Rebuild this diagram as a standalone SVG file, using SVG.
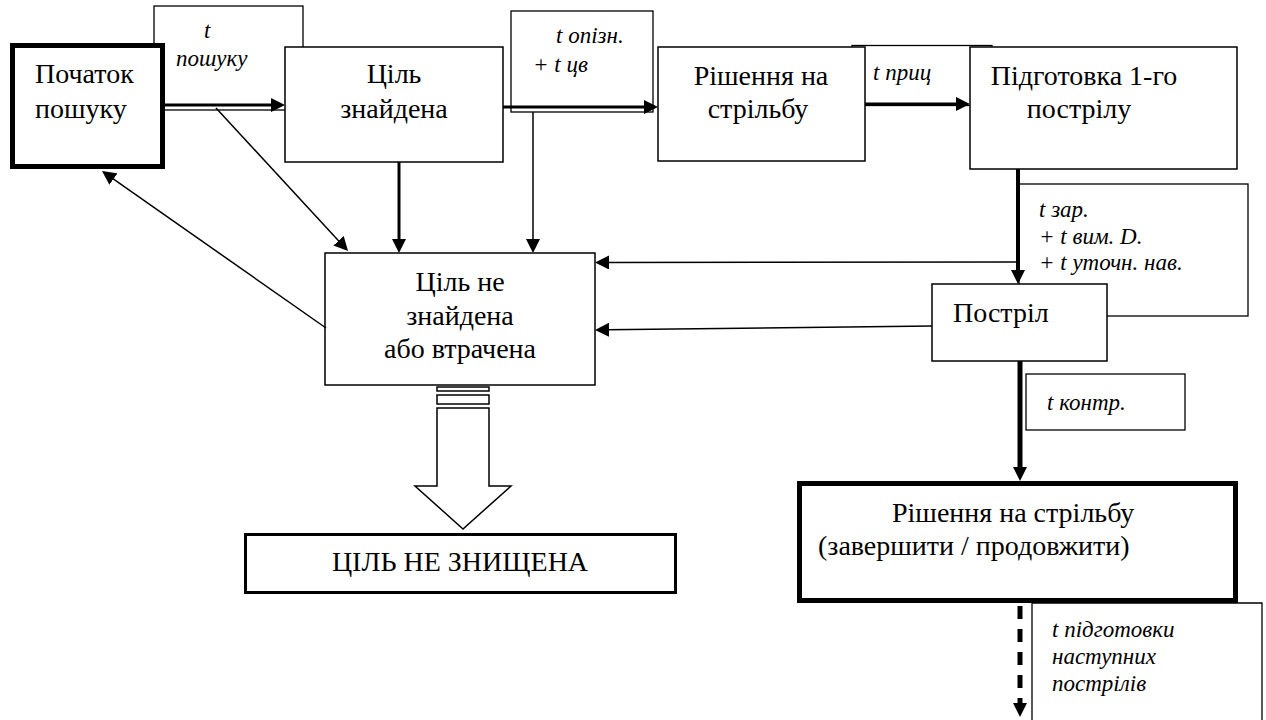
<svg xmlns="http://www.w3.org/2000/svg" width="1266" height="720" viewBox="0 0 1266 720">
<defs>
<style>
.box{fill:#fff;stroke:#000;stroke-width:1.5}
.bold{fill:#fff;stroke:#000;stroke-width:5}
.lbl{fill:#fff;stroke:#000;stroke-width:1.3}
.c{text-anchor:middle}
.thin{stroke:#000;stroke-width:1.5;fill:none}
.mid{stroke:#000;stroke-width:3;fill:none}
.thick{stroke:#000;stroke-width:5;fill:none}
</style>
<marker id="ah" viewBox="0 0 14 14" refX="2" refY="7" markerWidth="14" markerHeight="14" markerUnits="userSpaceOnUse" orient="auto">
<path d="M0,0 L14,7 L0,14 z" fill="#000"/>
</marker>
</defs>
<rect width="1266" height="720" fill="#fff"/>

<g font-family="Liberation Serif, serif" font-size="23" font-style="italic" fill="#000">
<g id="label-poshuku">
<rect class="lbl" x="154" y="6" width="149" height="104"/>
<text x="204" y="38">t</text>
<text x="176" y="66">пошуку</text>
</g>
<g id="label-opizn">
<rect class="lbl" x="511" y="11" width="142" height="101"/>
<text x="556" y="43">t опізн.</text>
<text x="533" y="72">+ t цв</text>
</g>
<g id="label-pryts">
<rect class="lbl" x="852" y="45.5" width="140" height="60"/>
<text x="873" y="80">t приц</text>
</g>
<g id="label-zar">
<rect class="lbl" x="1019" y="184" width="229" height="132"/>
<text x="1039" y="217">t зар.</text>
<text x="1039" y="244">+ t вим. D.</text>
<text x="1039" y="270">+ t уточн. нав.</text>
</g>
<g id="label-kontr">
<rect class="lbl" x="1026" y="374" width="159" height="56"/>
<text x="1047" y="410">t контр.</text>
</g>
<g id="label-next">
<path class="lbl" d="M1032,725 V603 H1262 V725"/>
<text x="1052" y="637">t підготовки</text>
<text x="1052" y="664">наступних</text>
<text x="1052" y="691">пострілів</text>
</g>
</g>

<g font-family="Liberation Serif, serif" font-size="28" fill="#000">
<g id="start">
<rect class="bold" x="12.5" y="45.5" width="150" height="121"/>
<text x="35" y="83">Початок</text>
<text x="35" y="118">пошуку</text>
</g>
<g id="found">
<rect class="box" x="285" y="47" width="218" height="115"/>
<text class="c" x="394" y="83">Ціль</text>
<text class="c" x="394" y="118">знайдена</text>
</g>
<g id="decision">
<rect class="box" x="658" y="47" width="207" height="114"/>
<text class="c" x="761" y="85">Рішення на</text>
<text class="c" x="758" y="118">стрільбу</text>
</g>
<g id="prep">
<rect class="box" x="970" y="47" width="267" height="122"/>
<text class="c" x="1084" y="85">Підготовка 1-го</text>
<text class="c" x="1079" y="118">пострілу</text>
</g>
<g id="notfound">
<rect class="box" x="325" y="253" width="270" height="132"/>
<text class="c" x="460" y="291">Ціль не</text>
<text class="c" x="460" y="325">знайдена</text>
<text class="c" x="460" y="358">або втрачена</text>
</g>
<g id="shot">
<rect class="box" x="932" y="284" width="175" height="77"/>
<text x="953" y="322">Постріл</text>
</g>
<g id="decision2">
<rect class="bold" x="799.5" y="483.5" width="436" height="117"/>
<text x="892" y="522">Рішення на стрільбу</text>
<text x="818" y="555">(завершити / продовжити)</text>
</g>
<g id="notdestroyed">
<rect x="245.5" y="534.5" width="430" height="58" fill="#fff" stroke="#000" stroke-width="3"/>
<text class="c" x="460" y="571">ЦІЛЬ НЕ ЗНИЩЕНА</text>
</g>
</g>

<g id="connectors">
<line class="mid" x1="165" y1="105" x2="273" y2="105" marker-end="url(#ah)"/>
<line class="thin" x1="216" y1="108" x2="339.9" y2="242.2" marker-end="url(#ah)"/>
<line class="mid" x1="503" y1="107" x2="646" y2="107" marker-end="url(#ah)"/>
<line class="thin" x1="533" y1="112" x2="533" y2="241" marker-end="url(#ah)"/>
<line class="mid" x1="399" y1="162" x2="399" y2="241" marker-end="url(#ah)"/>
<line class="mid" x1="865" y1="104" x2="958" y2="104" marker-end="url(#ah)"/>
<line stroke="#000" stroke-width="4" x1="1018" y1="169" x2="1018" y2="272" marker-end="url(#ah)"/>
<line class="thin" x1="1018" y1="262" x2="607" y2="262.5" marker-end="url(#ah)"/>
<line class="thin" x1="932" y1="326" x2="607" y2="329.8" marker-end="url(#ah)"/>
<line class="thin" x1="326" y1="328" x2="111.8" y2="177.9" marker-end="url(#ah)"/>
<line class="thick" x1="1020" y1="361" x2="1020" y2="469" marker-end="url(#ah)"/>
<line class="thick" x1="1020" y1="606" x2="1020" y2="705" stroke-dasharray="13 10" marker-end="url(#ah)"/>
<rect class="box" x="437" y="387" width="52" height="4"/>
<rect class="box" x="437" y="395" width="52" height="9"/>
<path class="box" d="M437,408 H489 V486 H511 L463,529 L415,486 H437 Z"/>
</g>
</svg>
